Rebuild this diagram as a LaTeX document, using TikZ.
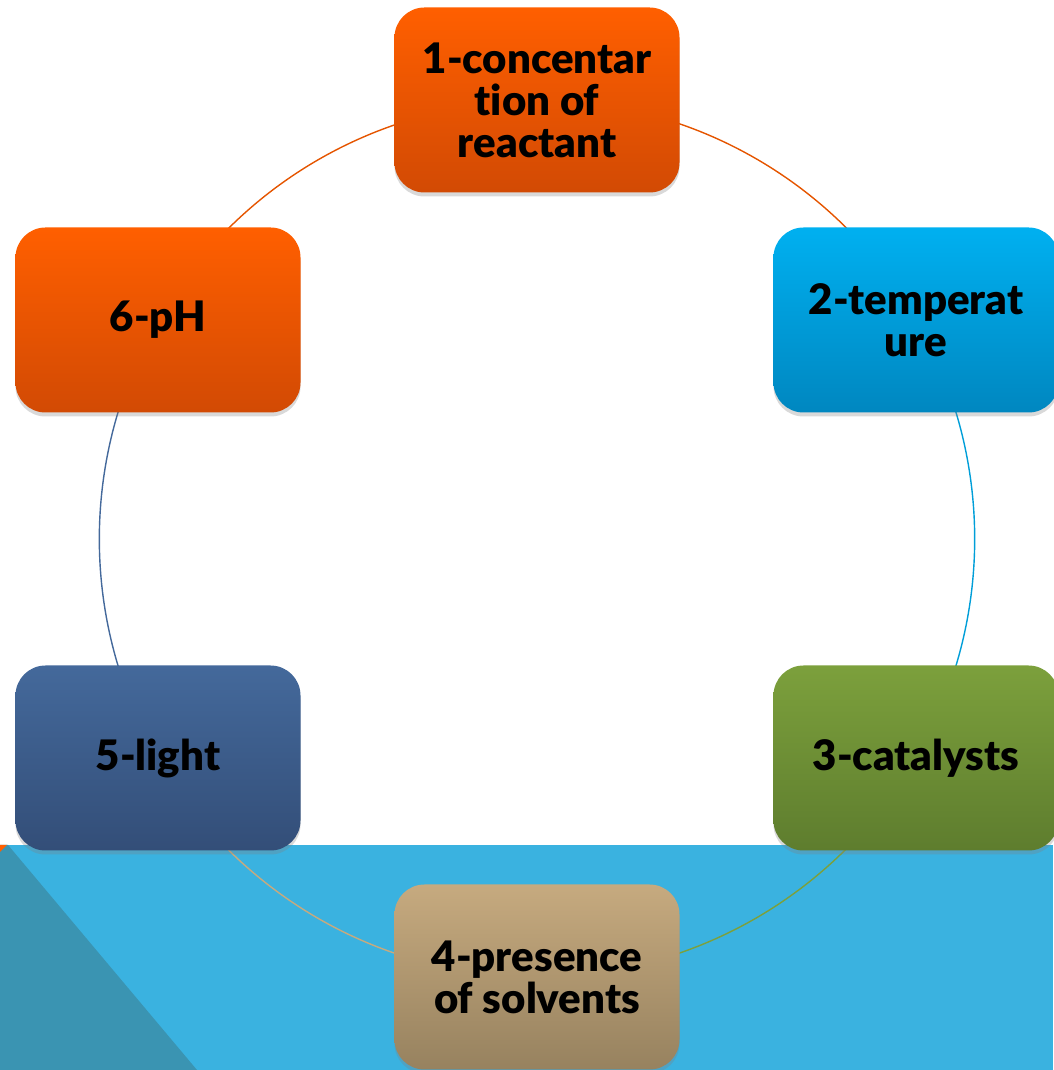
\documentclass[tikz,border=0pt]{standalone}
\usepackage{fontspec}
\setmainfont{Lato}[BoldFont={Lato Black}, Ligatures={NoCommon}]
\usetikzlibrary{shadows, backgrounds}
\definecolor{orangeTop}{HTML}{FF5F00}
\definecolor{orangeBot}{HTML}{D24A04}
\definecolor{blueTop}{HTML}{00B0F0}
\definecolor{blueBot}{HTML}{0087C0}
\definecolor{greenTop}{HTML}{7CA03C}
\definecolor{greenBot}{HTML}{5E7D2E}
\definecolor{tanTop}{HTML}{C6AA7F}
\definecolor{tanBot}{HTML}{97825F}
\definecolor{navyTop}{HTML}{44699B}
\definecolor{navyBot}{HTML}{334E78}
\definecolor{bandBlue}{HTML}{3AB2E0}
\definecolor{bandDark}{HTML}{3A94B2}
\tikzset{
    x=1pt, y=1pt, % one unit is one pixel of the slide
    stepcard/.style={rounded corners=30pt, minimum width=285pt, minimum height=185pt,
        align=center, font=\fontsize{42}{42}\selectfont\bfseries,
        drop shadow={shadow xshift=0pt, shadow yshift=-4pt, opacity=0.3}}, % the coloured boxes
    ring/.style={line width=1.4pt}, % the circle between the boxes
}
\begin{document}
\begin{tikzpicture}
    \useasboundingbox (0,0) rectangle (1053,1070);
    \node[stepcard, top color=orangeTop, bottom color=orangeBot] (conc) at (537,970) {1-concentar\\tion of\\reactant};
    \node[stepcard, top color=blueTop, bottom color=blueBot] (temp) at (916,750) {2-temperat\\ure};
    \node[stepcard, top color=greenTop, bottom color=greenBot] (cat) at (916,312) {3-catalysts};
    \node[stepcard, top color=tanTop, bottom color=tanBot] (solv) at (537,93) {4-presence\\of solvents};
    \node[stepcard, top color=navyTop, bottom color=navyBot] (light) at (158,312) {5-light};
    \node[stepcard, top color=orangeTop, bottom color=orangeBot] (ph) at (158,750) {6-pH};

    \begin{scope}[on background layer]
        % slide band at the bottom
        \fill[bandBlue] (0,0) rectangle (1053,225);
        \fill[bandDark] (0,0) -- (0,225) -- (8,225) -- (197,0) -- cycle;
        \fill[orangeTop] (0,225) -- (7,225) -- (0,218) -- cycle;
        % circle pieces
        \draw[ring, orangeTop!90!black] (conc.center) arc[start angle=90, end angle=30, radius=438pt];
        \draw[ring, blueTop!90!black] (temp.center) arc[start angle=30, end angle=-30, radius=438pt];
        \draw[ring, greenTop] (cat.center) arc[start angle=-30, end angle=-90, radius=438pt];
        \draw[ring, tanTop] (solv.center) arc[start angle=-90, end angle=-150, radius=438pt];
        \draw[ring, navyTop] (light.center) arc[start angle=-150, end angle=-210, radius=438pt];
        \draw[ring, orangeTop!90!black] (ph.center) arc[start angle=150, end angle=90, radius=438pt];
    \end{scope}
\end{tikzpicture}
\end{document}
